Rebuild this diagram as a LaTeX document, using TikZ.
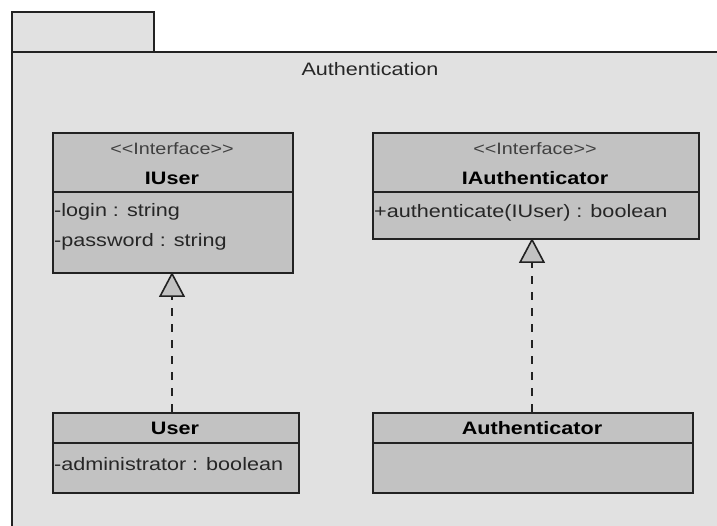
\documentclass[tikz,border=0pt]{standalone}
\usepackage{fontspec}
\setmainfont[FakeStretch=1.2]{Liberation Sans}
\usetikzlibrary{arrows.meta}
\definecolor{pkgfill}{HTML}{E1E1E1}
\definecolor{boxfill}{HTML}{C2C2C2}
\definecolor{edge}{HTML}{222222}
\tikzset{
  x=1pt, y=-1pt,
  pkg/.style={draw=edge, line width=1.6pt, fill=pkgfill},
  classbox/.style={draw=edge, line width=1.6pt, fill=boxfill, rectangle,
    inner sep=0pt, anchor=north west},
  divider/.style={draw=edge, line width=1.6pt},
  stereo/.style={font=\fontsize{16.5}{16.5}\selectfont, text=black!75, inner sep=0pt},
  cname/.style={font=\fontsize{18}{18}\selectfont\bfseries, inner sep=0pt},
  member/.style={font=\fontsize{18}{18}\selectfont, text=black!85, inner sep=0pt, anchor=west},
  realize/.style={draw=edge, line width=1.6pt, dash pattern=on 8pt off 8pt,
    -{Triangle[length=25pt, width=26pt, fill=boxfill, line width=1.6pt]}},
}
\newcommand{\stereotype}[1]{<{}<#1>{}>}
\begin{document}
\begin{tikzpicture}
\useasboundingbox (0,0) rectangle (717,526);
\begin{scope}
\clip (0,0) rectangle (717,526);
\fill[white] (0,0) rectangle (717,526);
% package tab and body
\path[pkg] (12,12) rectangle (154,52);
\path[pkg] (12,52) rectangle (740,560);
\node[font=\fontsize{18}{18}\selectfont, text=black!85, inner sep=0pt] (pkgname) at (370,69) {Authentication};

% interface IUser
\node[classbox, minimum width=240pt, minimum height=140pt] (iuser) at (52,132) {};
\draw[divider] (52,192) -- (292,192);
\node[stereo] (iuserst) at (172,149) {\stereotype{Interface}};
\node[cname] (iusern) at (172,178) {IUser};
\node[member] (iuserm1) at (54,212) {-login : string};
\node[member] (iuserm2) at (54,242) {-password : string};

% interface IAuthenticator
\node[classbox, minimum width=326pt, minimum height=106pt] (iauth) at (372,132) {};
\draw[divider] (372,192) -- (698,192);
\node[stereo] (iauthst) at (535,149) {\stereotype{Interface}};
\node[cname] (iauthn) at (535,178) {IAuthenticator};
\node[member] (iauthm1) at (374,213) {+authenticate(IUser) : boolean};

% class User
\node[classbox, minimum width=246pt, minimum height=80pt] (user) at (52,412) {};
\draw[divider] (52,443) -- (298,443);
\node[cname] (usern) at (175,428) {User};
\node[member] (userm1) at (54,464) {-administrator : boolean};

% class Authenticator
\node[classbox, minimum width=320pt, minimum height=80pt] (auth) at (372,412) {};
\draw[divider] (372,443) -- (692,443);
\node[cname] (authn) at (532,428) {Authenticator};

% realization connectors
\coordinate (userTop) at (172,412);
\coordinate (iuserBot) at (172,272);
\coordinate (authTop) at (532,412);
\coordinate (iauthBot) at (532,238);
\draw[realize] (userTop) -- (iuserBot);
\draw[realize] (authTop) -- (iauthBot);
\end{scope}
\end{tikzpicture}
\end{document}
